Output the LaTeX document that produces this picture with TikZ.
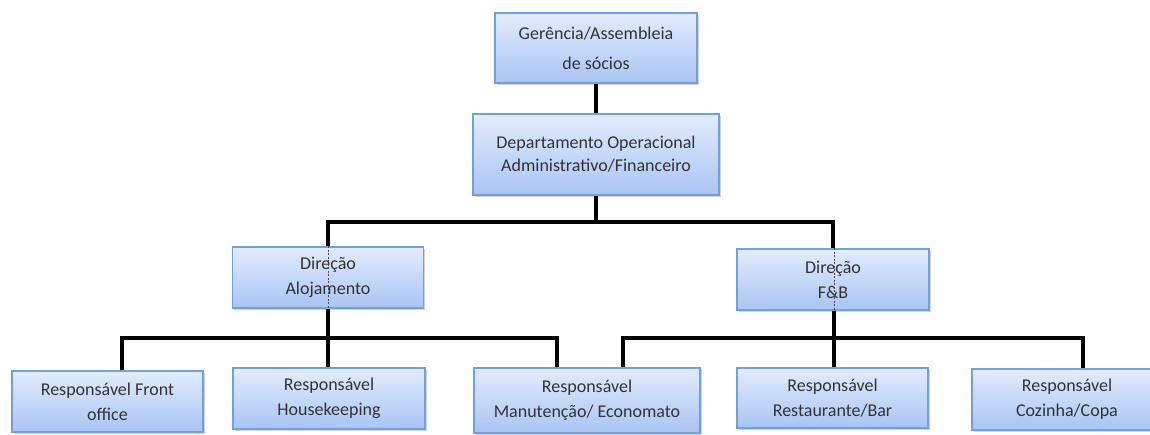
\documentclass[tikz,border=0pt]{standalone}
\usepackage{fontspec}
\setmainfont{Carlito}
\usetikzlibrary{shadows}
\definecolor{boxtop}{HTML}{E2ECFD}
\definecolor{boxbot}{HTML}{A9C5F4}
\definecolor{boxline}{HTML}{729FDD}
\definecolor{txt}{HTML}{333333}
\tikzset{
  orgbox/.style={draw=boxline, line width=1.2pt, top color=boxtop, bottom color=boxbot,
    align=center, inner sep=0pt, text=txt,
    font=\fontsize{18}{25}\selectfont,
    drop shadow={opacity=0.35, shadow xshift=1.5pt, shadow yshift=-2pt}},
  link/.style={draw=black, line width=3.3pt},
  thru/.style={draw=black!70, line width=0.6pt, dashed, dash pattern=on 2pt off 1.5pt}
}
\begin{document}
\begin{tikzpicture}[x=1pt,y=-1pt]
\useasboundingbox (0,0) rectangle (1150,434);
\clip (0,0) rectangle (1150,434);
\coordinate (h1) at (596,222);
\coordinate (l1) at (122,338);
\coordinate (l3) at (557,338);
\coordinate (r3) at (623,338);
\coordinate (r5) at (1083,338);
\coordinate (hA) at (328,338);
\coordinate (hF) at (834,338);

\node[orgbox, minimum width=202pt, minimum height=70pt, font=\fontsize{18}{30}\selectfont] (top) at (596,48) {Gerência/Assembleia\\de sócios};
\node[orgbox, minimum width=246pt, minimum height=81pt, font=\fontsize{18}{23}\selectfont] (dept) at (596,154.5) {Departamento Operacional\\Administrativo/Financeiro};
\node[orgbox, minimum width=191pt, minimum height=61pt] (dirA) at (328,277.5) {Direção\\Alojamento};
\node[orgbox, minimum width=192pt, minimum height=61pt] (dirF) at (833,279.5) {Direção\\F\&B};
\node[orgbox, minimum width=191pt, minimum height=61pt] (b1) at (107.5,401.5) {Responsável Front\\office};
\node[orgbox, minimum width=192pt, minimum height=61pt] (b2) at (329,398.5) {Responsável\\Housekeeping};
\node[orgbox, minimum width=226pt, minimum height=65pt] (b3) at (587,400.5) {Responsável\\Manutenção/ Economato};
\node[orgbox, minimum width=191pt, minimum height=60pt] (b4) at (832.5,398) {Responsável\\Restaurante/Bar};
\node[orgbox, minimum width=190pt, minimum height=61pt] (b5) at (1067,399.5) {Responsável\\Cozinha/Copa};

\draw[link] (top.south) -- (dept.north);
\draw[link] (dept.south) -- (h1);
\draw[link] (dirA.north) |- (h1) -| (dirF.north);
\draw[thru] (dirA.north) -- (dirA.south);
\draw[thru] ([xshift=1pt]dirF.north) -- ([xshift=1pt]dirF.south);
\draw[link] (dirA.south) -- (hA) -- (b2.north -| hA);
\draw[link] (l1 |- b1.north) -- (l1) -- (l3) -- (l3 |- b3.north);
\draw[link] ([xshift=1pt]dirF.south) -- (hF) -- (b4.north -| hF);
\draw[link] (r3 |- b3.north) -- (r3) -- (r5) -- (r5 |- b5.north);
\end{tikzpicture}
\end{document}
